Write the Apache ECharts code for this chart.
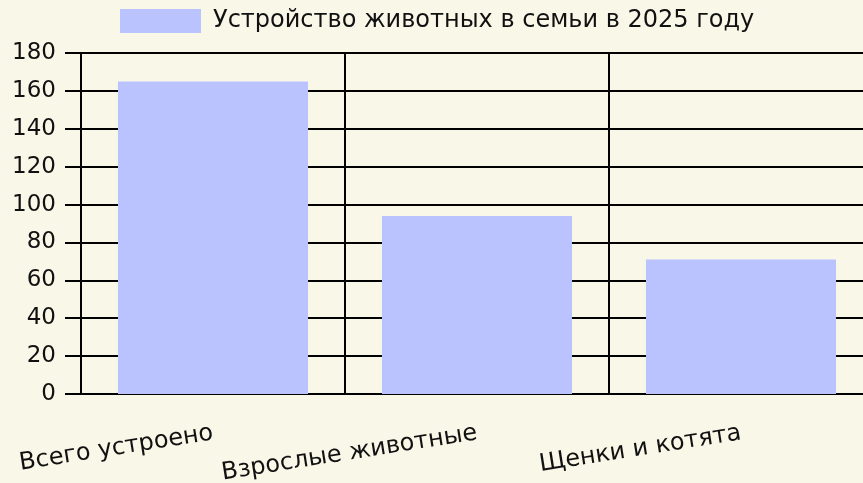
<!DOCTYPE html>
<html>
<head>
<meta charset="utf-8">
<script src="https://cdn.jsdelivr.net/npm/echarts@6/dist/echarts.min.js"></script>
<style>
  html, body { margin: 0; padding: 0; background: #f9f7e8; }
  #chart { width: 863px; height: 483px; }
</style>
</head>
<body>
<div id="chart"></div>
<script>
// данные
const categories = ['Всего устроено', 'Взрослые животные', 'Щенки и котята'];
const values = [165, 94, 71];
const seriesName = 'Устройство животных в семьи в 2025 году';
const yTicks = { min: 0, max: 180, step: 20 };

let myChart = echarts.init(document.getElementById('chart'));
let option = {
  backgroundColor: '#f9f7e8',
  textStyle: { fontFamily: 'DejaVu Sans', color: '#111' },
  legend: {
    top: 4,
    left: 115,
    icon: 'rect',
    itemWidth: 81,
    itemHeight: 24,
    textStyle: { fontSize: 24, color: '#111', fontFamily: 'DejaVu Sans', padding: [0, 0, 0, 7] },
    data: [seriesName]
  },
  // сетка шире окна — последняя категория уходит за правый край
  grid: { left: 81, top: 53, bottom: 89, width: 792, containLabel: false, outerBoundsMode: 'none' },
  xAxis: {
    type: 'category',
    data: categories,
    axisLine: { lineStyle: { color: '#000', width: 2 } },
    axisTick: { length: 14, interval: 0, lineStyle: { color: '#000', width: 2 } },
    splitLine: { show: true, interval: 0, lineStyle: { color: '#000', width: 2 } },
    axisLabel: { interval: 0, rotate: 9, margin: 39, fontSize: 24, color: '#111', fontFamily: 'DejaVu Sans' }
  },
  yAxis: {
    type: 'value',
    min: yTicks.min,
    max: yTicks.max,
    interval: yTicks.step,
    axisLine: { show: true, lineStyle: { color: '#000', width: 2 } },
    axisTick: { show: true, length: 16, lineStyle: { color: '#000', width: 2 } },
    splitLine: { show: true, lineStyle: { color: '#000', width: 2 } },
    axisLabel: { margin: 25, fontSize: 23, color: '#111', fontFamily: 'DejaVu Sans' }
  },
  series: [
    {
      name: seriesName,
      type: 'bar',
      data: values,
      barCategoryGap: '28%',
      itemStyle: { color: '#bbc3ff' }
    }
  ]
};
myChart.setOption(option);
</script>
</body>
</html>
